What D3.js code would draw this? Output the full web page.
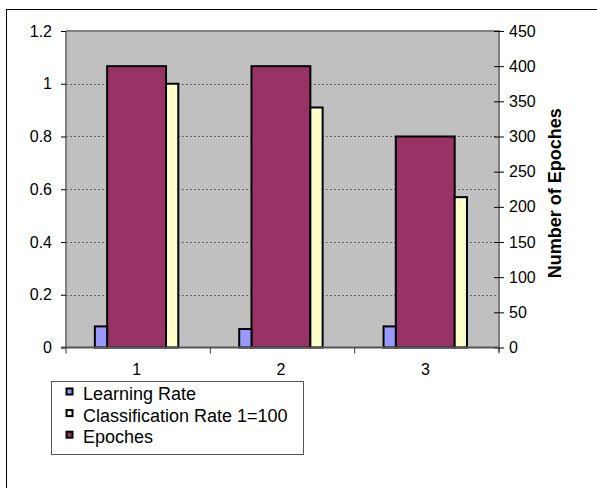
<!DOCTYPE html>
<html>
<head>
<meta charset="utf-8">
<script src="https://cdn.jsdelivr.net/npm/d3@7"></script>
<style>
  html, body { margin: 0; padding: 0; background: #fff; }
  svg { display: block; font-family: "Liberation Sans", Arial, sans-serif; }
</style>
</head>
<body>
<script>
// Training runs
const categories = ["1", "2", "3"];
const learningRate = [0.08, 0.07, 0.08];
const classificationRate = [1.0, 0.91, 0.57];
const epoches = [400, 400, 300];

const leftTicks = [0, 0.2, 0.4, 0.6, 0.8, 1, 1.2];
const rightTicks = [0, 50, 100, 150, 200, 250, 300, 350, 400, 450];

const seriesNames = ["Learning Rate", "Classification Rate 1=100", "Epoches"];
const seriesColors = ["#9999FF", "#FFFFCC", "#993366"];

const W = 597, H = 488;
const plot = { left: 66, right: 499, top: 31, bottom: 347.5 };

const svg = d3.select("body").append("svg")
  .attr("width", W).attr("height", H);

// Chart frame
svg.append("rect")
  .attr("x", 6.5).attr("y", 9.5)
  .attr("width", 620).attr("height", 520)
  .attr("fill", "#fff").attr("stroke", "#000").attr("stroke-width", 1);

const x = d3.scaleBand().domain(categories).range([plot.left, plot.right]).padding(0);
const yL = d3.scaleLinear().domain([0, 1.2]).range([plot.bottom, plot.top]);
const yR = d3.scaleLinear().domain([0, 450]).range([plot.bottom, plot.top]);

// Plot area
svg.append("rect")
  .attr("x", plot.left).attr("y", plot.top)
  .attr("width", plot.right - plot.left).attr("height", plot.bottom - plot.top)
  .attr("fill", "#C0C0C0");

// Gridlines (primary axis)
svg.append("g").selectAll("line")
  .data(leftTicks.filter(t => t > 0 && t < 1.2))
  .join("line")
  .attr("x1", plot.left).attr("x2", plot.right)
  .attr("y1", d => Math.round(yL(d)) + 0.5).attr("y2", d => Math.round(yL(d)) + 0.5)
  .attr("stroke", "#666").attr("stroke-width", 1)
  .attr("stroke-dasharray", "2,2");

// Plot border
svg.append("line")
  .attr("x1", plot.left).attr("x2", plot.right)
  .attr("y1", plot.top).attr("y2", plot.top)
  .attr("stroke", "#808080").attr("stroke-width", 2);
svg.append("line")
  .attr("x1", plot.left).attr("x2", plot.left)
  .attr("y1", plot.top).attr("y2", plot.bottom)
  .attr("stroke", "#808080").attr("stroke-width", 2);

// Bars: offsets within each category band
const bw = x.bandwidth();
const lay = {
  lr: [0.200, 0.285],
  ep: [0.285, 0.693],
  cr: [0.693, 0.778]
};

const bars = svg.append("g").attr("stroke", "#000").attr("stroke-width", 2);

bars.selectAll(".ep").data(categories).join("rect").attr("class", "ep")
  .attr("x", (c) => x(c) + lay.ep[0] * bw)
  .attr("width", (lay.ep[1] - lay.ep[0]) * bw)
  .attr("y", (c, i) => yR(epoches[i]))
  .attr("height", (c, i) => yR(0) - yR(epoches[i]))
  .attr("fill", seriesColors[2]);

bars.selectAll(".lr").data(categories).join("rect").attr("class", "lr")
  .attr("x", (c) => x(c) + lay.lr[0] * bw)
  .attr("width", (lay.lr[1] - lay.lr[0]) * bw)
  .attr("y", (c, i) => yL(learningRate[i]))
  .attr("height", (c, i) => yL(0) - yL(learningRate[i]))
  .attr("fill", seriesColors[0]);

bars.selectAll(".cr").data(categories).join("rect").attr("class", "cr")
  .attr("x", (c) => x(c) + lay.cr[0] * bw)
  .attr("width", (lay.cr[1] - lay.cr[0]) * bw)
  .attr("y", (c, i) => yL(classificationRate[i]))
  .attr("height", (c, i) => yL(0) - yL(classificationRate[i]))
  .attr("fill", seriesColors[1]);

// Left axis
const leftAxis = svg.append("g")
  .attr("transform", `translate(${plot.left},0)`)
  .call(d3.axisLeft(yL).tickValues(leftTicks).tickSize(5).tickPadding(9)
    .tickFormat(d => String(+d.toFixed(1))));
leftAxis.select(".domain").remove();
leftAxis.selectAll("line").attr("stroke", "#000");
leftAxis.selectAll("text").attr("font-size", 16).attr("fill", "#000")
  .attr("font-family", "Liberation Sans, Arial, sans-serif");

// Right axis
svg.append("line")
  .attr("x1", plot.right).attr("x2", plot.right)
  .attr("y1", plot.top - 1).attr("y2", plot.bottom + 4)
  .attr("stroke", "#808080").attr("stroke-width", 2);
const rightAxis = svg.append("g")
  .attr("transform", `translate(${plot.right},0)`)
  .call(d3.axisRight(yR).tickValues(rightTicks).tickSize(5).tickPadding(5));
rightAxis.select(".domain").remove();
rightAxis.selectAll("line").attr("x1", -5).attr("stroke", "#000");
rightAxis.selectAll("text").attr("font-size", 16).attr("fill", "#000")
  .attr("font-family", "Liberation Sans, Arial, sans-serif");

// Category axis
svg.append("line")
  .attr("x1", plot.left - 5).attr("x2", plot.right)
  .attr("y1", plot.bottom).attr("y2", plot.bottom)
  .attr("stroke", "#555").attr("stroke-width", 2);
const boundaries = categories.map(c => x(c)).concat([plot.right]);
svg.append("g").selectAll("line").data(boundaries).join("line")
  .attr("x1", d => d).attr("x2", d => d)
  .attr("y1", plot.bottom).attr("y2", plot.bottom + 6)
  .attr("stroke", "#333").attr("stroke-width", 1);
svg.append("g").selectAll("text").data(categories).join("text")
  .attr("x", c => x(c) + bw * 0.49)
  .attr("y", 375)
  .attr("text-anchor", "middle")
  .attr("font-size", 16)
  .text(c => c);

// Secondary axis title
svg.append("text")
  .attr("transform", `translate(561,${(plot.top + plot.bottom) / 2 + 4}) rotate(-90)`)
  .attr("text-anchor", "middle")
  .attr("font-size", 18)
  .attr("font-weight", "bold")
  .text("Number of Epoches");

// Legend
const legend = svg.append("g");
legend.append("rect")
  .attr("x", 51.5).attr("y", 381.5)
  .attr("width", 252).attr("height", 73)
  .attr("fill", "#fff").attr("stroke", "#555").attr("stroke-width", 1);
const items = legend.selectAll("g.item").data(seriesNames).join("g")
  .attr("class", "item")
  .attr("transform", (d, i) => `translate(0,${400 + i * 21.6})`);
items.append("rect")
  .attr("x", 66.5).attr("y", -11.5)
  .attr("width", 6).attr("height", 6)
  .attr("fill", (d, i) => seriesColors[i])
  .attr("stroke", "#000").attr("stroke-width", 2);
items.append("text")
  .attr("x", 83).attr("y", 0)
  .attr("font-size", 18)
  .text(d => d);
</script>
</body>
</html>
